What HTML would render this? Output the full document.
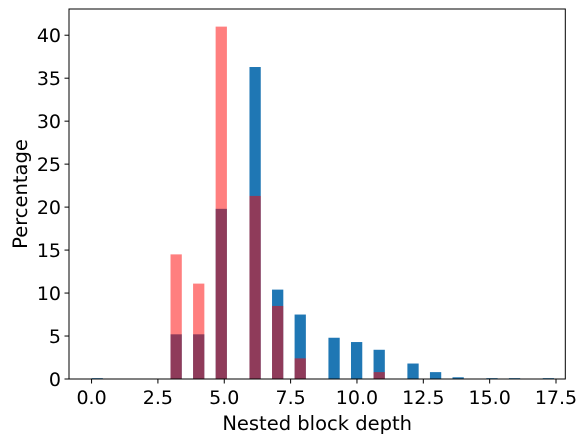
<!DOCTYPE html>
<html><head><meta charset="utf-8"><style>
body{margin:0;background:#fff;}
svg text{font-family:"DejaVu Sans","Liberation Sans",sans-serif;fill:#000;}
</style></head><body>
<svg id="chart" width="587" height="442" xmlns="http://www.w3.org/2000/svg">
<g id="bars"></g>
<g id="axes"></g>
</svg>
<script>
const depths = [0,3,4,5,6,7,8,9,10,11,12,13,14,15,16,17];
const blueValues = [0.1,5.2,5.2,19.8,36.3,10.4,7.5,4.8,4.3,3.4,1.8,0.8,0.2,0.1,0.1,0.1];
const redDepths = [3,4,5,6,7,8,11];
const redValues = [14.5,11.1,41.0,21.3,8.5,2.4,0.8];
const xTicks = [0,2.5,5,7.5,10,12.5,15,17.5];
const yTicks = [0,5,10,15,20,25,30,35,40];

const L=69,R=565.3,T=9,B=379;
const xmin=-0.85,xmax=17.85,ymin=0,ymax=43.05;
const binW=0.425;
const X=v=>L+(v-xmin)/(xmax-xmin)*(R-L);
const Y=v=>B-(v-ymin)/(ymax-ymin)*(B-T);
const NS="http://www.w3.org/2000/svg";
const bars=document.getElementById('bars'), axes=document.getElementById('axes');
function mk(tag,attrs,parent){const e=document.createElementNS(NS,tag);for(const k in attrs)e.setAttribute(k,attrs[k]);parent.appendChild(e);return e;}
function binLeft(v){return Math.floor(v/binW+1e-9)*binW;}

depths.forEach((d,i)=>{
  const x0=X(binLeft(d)),x1=X(binLeft(d)+binW);
  const r=mk('rect',{x:x0,y:Y(blueValues[i]),width:x1-x0,height:Y(0)-Y(blueValues[i]),fill:'#1f77b4'},bars);
  
  
});
redDepths.forEach((d,i)=>{
  const x0=X(binLeft(d)),x1=X(binLeft(d)+binW);
  const r=mk('rect',{x:x0,y:Y(redValues[i]),width:x1-x0,height:Y(0)-Y(redValues[i]),fill:'#ff0000','fill-opacity':0.5},bars);
  
  
});

const frame=mk('rect',{x:L,y:T,width:R-L,height:B-T,fill:'none',stroke:'#000','stroke-width':1},axes);



xTicks.forEach(t=>{
  const x=X(t);
  mk('line',{x1:x,x2:x,y1:B,y2:B+4.5,stroke:'#000','stroke-width':1},axes);
  const tx=mk('text',{x:x,y:B+25,'text-anchor':'middle','font-size':19},axes);
  tx.textContent=t.toFixed(1);
  
  
});
yTicks.forEach(t=>{
  const y=Y(t);
  mk('line',{x1:L-4.5,x2:L,y1:y,y2:y,stroke:'#000','stroke-width':1},axes);
  const tx=mk('text',{x:L-8,y:y+7,'text-anchor':'end','font-size':19},axes);
  tx.textContent=t;
  
  
});
const xl=mk('text',{x:(L+R)/2,y:430,'text-anchor':'middle','font-size':19.5},axes);
xl.textContent='Nested block depth';


const yl=mk('text',{x:0,y:0,'text-anchor':'middle','font-size':19.5,transform:`translate(27,${(T+B)/2}) rotate(-90)`},axes);
yl.textContent='Percentage';


</script>
</body></html>
